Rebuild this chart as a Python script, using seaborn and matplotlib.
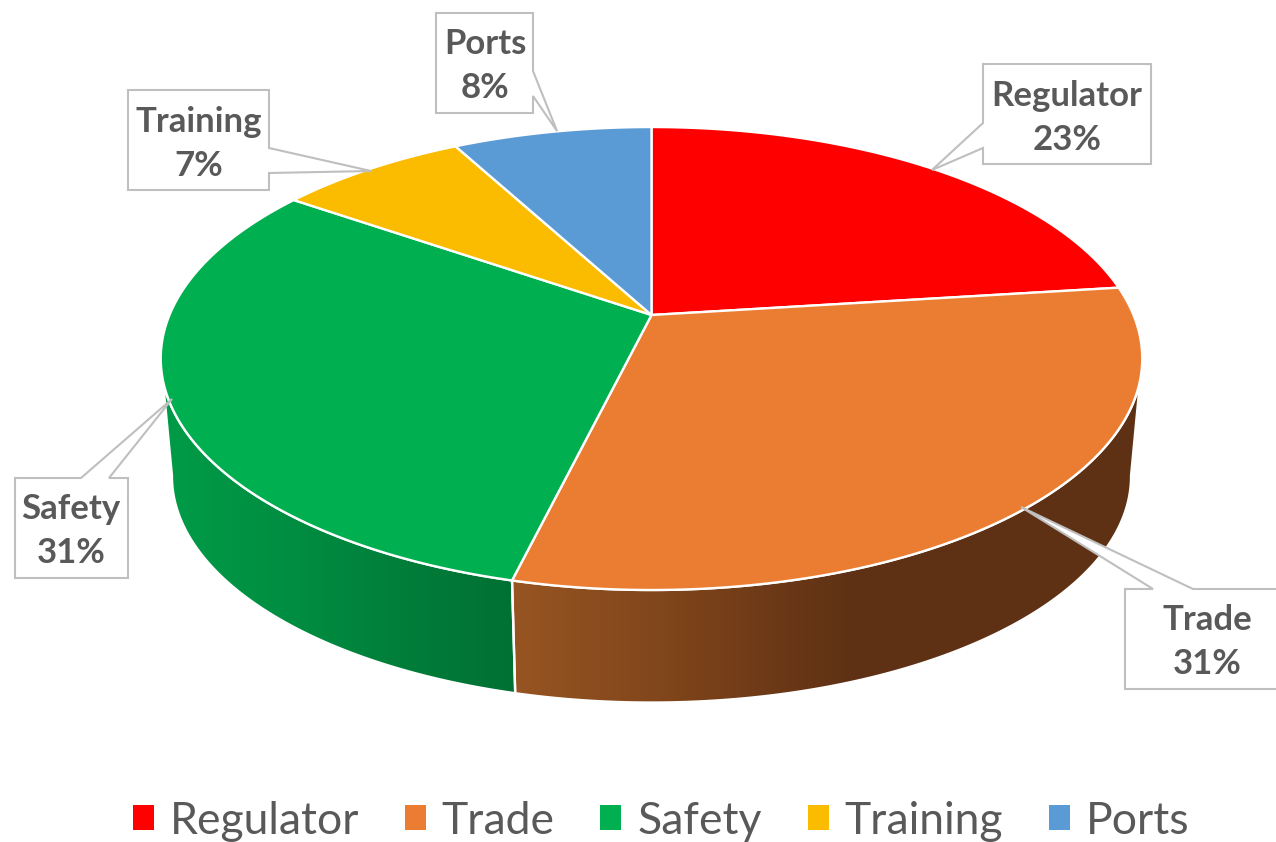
import numpy as np
import matplotlib
matplotlib.use("Agg")
import matplotlib.pyplot as plt
import seaborn as sns
from matplotlib.colors import to_rgb
from matplotlib.patches import Patch, Polygon
from matplotlib.path import Path
from matplotlib.transforms import Affine2D, Transform

# Chart data
names = ["Regulator", "Trade", "Safety", "Training", "Ports"]
shares = [23, 30.8, 30.85, 7.49, 7.86]
top_colors = ["#FF0000", "#EB7D33", "#00B050", "#FBBC00", "#5B9BD5"]

sns.set_theme(style="white")
plt.rcParams['font.family'] = ['Lato', 'DejaVu Sans']
TEXT_GREY = "#595959"
BOX_GREY = "#BFBFBF"


class TiltedDisc(Transform):
    """Perspective view of the unit disc, result is in picture pixels"""
    input_dims = 2
    output_dims = 2

    def __init__(self, cx, cy, a, b, k=0.188):
        super().__init__()
        self.cx, self.cy, self.a, self.b, self.k = cx, cy, a, b, k

    def transform_non_affine(self, values):
        values = np.asarray(values, dtype=float)
        d = 1 + self.k * values[:, 1]
        return np.column_stack([self.cx + self.a * values[:, 0] / d,
                                self.cy - self.b * values[:, 1] / d])

    def transform_path_non_affine(self, path):
        # flatten the curves at a big scale so the arcs stay smooth
        big = path.transformed(Affine2D().scale(2000))
        polys = big.to_polygons(closed_only=True)
        return Path(self.transform_non_affine(polys[0] / 2000), closed=True)


top_disc = TiltedDisc(651.5, 315, 482, 223.3)
bottom_disc = TiltedDisc(651.5, 433.7, 471, 218.3)

fig, ax = plt.subplots(figsize=(12.76, 8.42), dpi=100)
ax.set_position([0, 0, 1, 1])

wedges, _ = ax.pie(shares, colors=sns.color_palette(top_colors), startangle=90,
                   counterclock=False,
                   wedgeprops={'edgecolor': 'white', 'linewidth': 1.7})
for w in wedges:
    w.set_transform(top_disc + ax.transData)
    w.set_zorder(3)


def draw_wall(wedge, x_stops, colors):
    # only the front of the rim shows, between the two side tangents
    t1 = max(wedge.theta1, -169.3)
    t2 = min(wedge.theta2, -10.7)
    t = np.radians(np.linspace(t1, t2, 200))
    ring = np.column_stack([np.cos(t), np.sin(t)])
    outline = np.vstack([top_disc.transform_non_affine(ring),
                         bottom_disc.transform_non_affine(ring)[::-1]])
    xs = np.arange(outline[:, 0].min(), outline[:, 0].max() + 1)
    rgb = np.array([to_rgb(c) for c in colors])
    grad = np.stack([np.interp(xs, x_stops, rgb[:, i]) for i in range(3)], axis=-1)
    im = ax.imshow(grad[np.newaxis, :, :], aspect='auto', zorder=1,
                   extent=[xs[0], xs[-1], outline[:, 1].max(), outline[:, 1].min()])
    im.set_clip_path(Polygon(outline, closed=True, transform=ax.transData))
    # white seam round the wall
    ax.add_patch(Polygon(outline, closed=True, facecolor='none', edgecolor='white',
                         linewidth=1.7, zorder=2))


draw_wall(wedges[1], [511, 640, 850, 1142], ["#975522", "#84481C", "#5F3114", "#5F3114"])
draw_wall(wedges[2], [160, 300, 430, 515], ["#009C47", "#008C41", "#007A38", "#007133"])

# Callout outlines (box with a pointer running to the pie) and text centres
callouts = [
    ([(983, 64), (1151, 64), (1151, 164), (983, 164), (983, 148), (932, 170), (983, 123)], (1067, 118)),
    ([(1125, 589), (1153, 589), (1021, 507), (1193, 589), (1289, 589), (1289, 689), (1125, 689)], (1207, 642)),
    ([(15, 478), (81, 478), (172, 399), (109, 478), (128, 478), (128, 578), (15, 578)], (71, 531)),
    ([(128, 90), (269, 90), (269, 148), (371, 171), (269, 173), (269, 190), (128, 190)], (199, 144)),
    ([(436, 13), (533, 13), (533, 71), (557, 131), (533, 96), (533, 113), (436, 113)], (485, 66)),
]
for name, share, (outline, center) in zip(names, shares, callouts):
    ax.add_patch(Polygon(outline, closed=True, facecolor='white', edgecolor=BOX_GREY,
                         linewidth=1.5, zorder=5, joinstyle='miter'))
    ax.text(center[0], center[1], f"{name}\n{share:.0f}%", ha='center', va='center',
            fontsize=25, fontweight='bold', color=TEXT_GREY, linespacing=1.45, zorder=6)

handles = [Patch(facecolor=c, edgecolor='none', label=n) for n, c in zip(names, top_colors)]
leg = ax.legend(handles=handles, ncol=5, loc='center', frameon=False,
                bbox_to_anchor=(661 / 1276, 1 - 821 / 842), fontsize=32,
                labelcolor=TEXT_GREY, handlelength=0.47, handleheight=0.47,
                handletextpad=0.36, columnspacing=1.03, borderpad=0, borderaxespad=0)

ax.set_aspect('auto')
ax.set_xlim(0, 1276)
ax.set_ylim(842, 0)
ax.axis('off')

fig.savefig("out.png", dpi=100, facecolor='white')
plt.close(fig)
